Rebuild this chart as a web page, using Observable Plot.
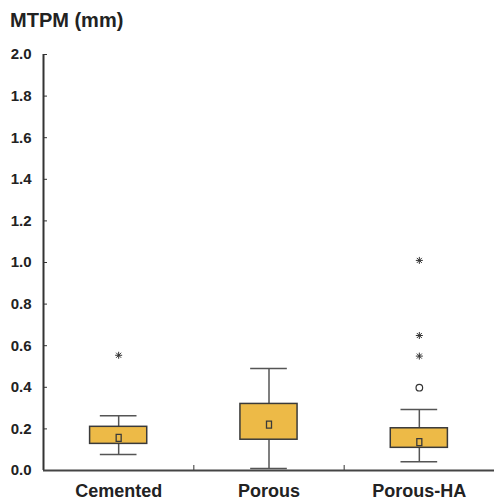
<!DOCTYPE html>
<html>
<head>
<meta charset="utf-8">
<script src="https://cdn.jsdelivr.net/npm/d3@7"></script>
<script src="https://cdn.jsdelivr.net/npm/@observablehq/plot@0.6"></script>
<style>
  body { margin: 0; background: #fff; }
  #title { height: 40px; box-sizing: border-box; padding: 9px 0 0 10px; font: bold 20px "Liberation Sans", Arial, sans-serif; color: #222; }
</style>
</head>
<body>
<div id="title">MTPM (mm)</div>
<div id="chart"></div>
<script>
const groups = ["Cemented", "Porous", "Porous-HA"];
const whiskerLow = [0.077, 0.010, 0.042];
const boxLow = [0.128, 0.148, 0.109];
const boxHigh = [0.210, 0.320, 0.203];
const whiskerHigh = [0.263, 0.490, 0.293];
const means = [0.157, 0.221, 0.136];
const outlierGroup = ["Porous-HA"];
const outlierValue = [0.398];
const extremeGroup = ["Cemented", "Porous-HA", "Porous-HA", "Porous-HA"];
const extremeValue = [0.554, 1.010, 0.649, 0.550];
const yTicks = [0, 0.2, 0.4, 0.6, 0.8, 1.0, 1.2, 1.4, 1.6, 1.8, 2.0];

const pos = g => groups.indexOf(g) + 0.5;
const stats = groups.map((g, i) => ({
  g, c: i + 0.5, wl: whiskerLow[i], bl: boxLow[i], bh: boxHigh[i], wh: whiskerHigh[i], m: means[i]
}));
const outliers = outlierGroup.map((g, i) => ({c: pos(g), v: outlierValue[i]}));
const extremes = extremeGroup.map((g, i) => ({c: pos(g), v: extremeValue[i]}));

const starSymbol = {
  draw(ctx, size) {
    const r = 3.5, d = r * 0.72;
    ctx.moveTo(0, -r); ctx.lineTo(0, r);
    ctx.moveTo(-r, 0); ctx.lineTo(r, 0);
    ctx.moveTo(-d, -d); ctx.lineTo(d, d);
    ctx.moveTo(-d, d); ctx.lineTo(d, -d);
  }
};
const meanSymbol = {
  draw(ctx, size) { ctx.rect(-2.5, -3.5, 5, 7); }
};

const boxHalf = 0.19, capHalf = 0.122;
const font = "Liberation Sans, Arial, sans-serif";

const chart = Plot.plot({
  width: 494,
  height: 460,
  marginLeft: 43,
  marginRight: 0,
  marginTop: 14,
  marginBottom: 30,
  style: {fontFamily: font, fontSize: "15px", fontWeight: "bold", color: "#222", background: "#fff"},
  x: {domain: [0, 3], axis: null},
  y: {domain: [0, 2], axis: null},
  marks: [
    // whiskers
    Plot.ruleX(stats, {x: "c", y1: "wl", y2: "bl", stroke: "#555", strokeWidth: 1.5}),
    Plot.ruleX(stats, {x: "c", y1: "bh", y2: "wh", stroke: "#555", strokeWidth: 1.5}),
    Plot.ruleY(stats, {y: "wl", x1: d => d.c - capHalf, x2: d => d.c + capHalf, stroke: "#555", strokeWidth: 1.5}),
    Plot.ruleY(stats, {y: "wh", x1: d => d.c - capHalf, x2: d => d.c + capHalf, stroke: "#555", strokeWidth: 1.5}),
    // boxes
    Plot.rect(stats, {x1: d => d.c - boxHalf, x2: d => d.c + boxHalf, y1: "bl", y2: "bh", fill: "#EDBA47", stroke: "#3a3a3a", strokeWidth: 1.5}),
    // means
    Plot.dot(stats, {x: "c", y: "m", symbol: meanSymbol, r: 4, stroke: "#3a3a3a", strokeWidth: 1.3, fill: "none"}),
    // outliers
    Plot.dot(outliers, {x: "c", y: "v", symbol: "circle", r: 3.3, stroke: "#333", strokeWidth: 1.2, fill: "none"}),
    Plot.dot(extremes, {x: "c", y: "v", symbol: starSymbol, r: 4, stroke: "#333", strokeWidth: 1, fill: "none"}),
    // axes
    Plot.axisY({ticks: yTicks, tickFormat: d3.format(".1f"), tickSize: -4, tickPadding: 16, stroke: "#333", fill: "#222", fontSize: 15, label: null}),
    Plot.axisX({ticks: [1, 2, 3], tickFormat: () => "", tickSize: -5, stroke: "#333", label: null}),
    Plot.axisX({ticks: [0.5, 1.5, 2.5], tickFormat: d => groups[Math.floor(d)], tickSize: 0, tickPadding: 14, fill: "#222", fontSize: 18, label: null}),
    Plot.ruleX([0], {stroke: "#333", strokeWidth: 2}),
    Plot.ruleY([0], {stroke: "#444", strokeWidth: 2})
  ]
});
document.getElementById("chart").appendChild(chart);
</script>
</body>
</html>
